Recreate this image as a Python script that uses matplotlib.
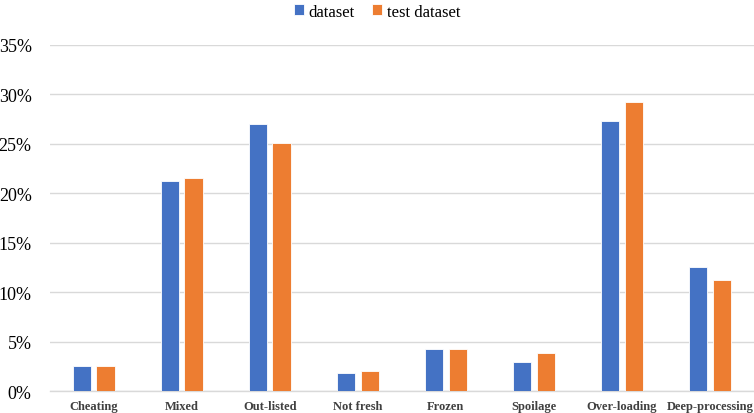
import numpy as np
import matplotlib.pyplot as plt
from matplotlib.ticker import PercentFormatter

categories = ['Cheating', 'Mixed', 'Out-listed', 'Not fresh', 'Frozen',
              'Spoilage', 'Over-loading', 'Deep-processing']
dataset = [2.55, 21.3, 27.0, 1.87, 4.26, 2.98, 27.35, 12.6]
test_dataset = [2.55, 21.6, 25.1, 2.07, 4.32, 3.89, 29.2, 11.3]

plt.rcParams['font.family'] = ['Liberation Serif', 'DejaVu Serif']

fig = plt.figure(figsize=(7.54, 4.14), dpi=100)
ax = fig.add_axes([0.066, 0.052, 0.934, 0.837])

x = np.arange(len(categories))
w = 0.21
ax.bar(x - 0.135, dataset, width=w, color='#4472C4', edgecolor='white',
       linewidth=0.6, label='dataset', zorder=3)
ax.bar(x + 0.135, test_dataset, width=w, color='#ED7D31', edgecolor='white',
       linewidth=0.6, label='test dataset', zorder=3)

ax.set_ylim(0, 35)
ax.set_xlim(-0.5, len(categories) - 0.5)
ax.set_yticks(np.arange(0, 36, 5))
ax.yaxis.set_major_formatter(PercentFormatter(decimals=0))
ax.set_xticks(x)
ax.set_xticklabels(categories, fontweight='bold', fontsize=9, color='#404040')
ax.tick_params(axis='y', labelsize=13, length=0, pad=13)
ax.tick_params(axis='x', length=0, pad=6)
ax.grid(axis='y', color='#d9d9d9', linewidth=1, zorder=0)
for s in ['top', 'right', 'left']:
    ax.spines[s].set_visible(False)
ax.spines['bottom'].set_color('#d9d9d9')
ax.spines['bottom'].set_linewidth(1)

fig.legend(loc='upper center', bbox_to_anchor=(0.5, 1.025), ncol=2, frameon=False,
           fontsize=12, handlelength=0.6, handleheight=0.6, handletextpad=0.3,
           columnspacing=1.0)

fig.savefig('out.png', dpi=100)
